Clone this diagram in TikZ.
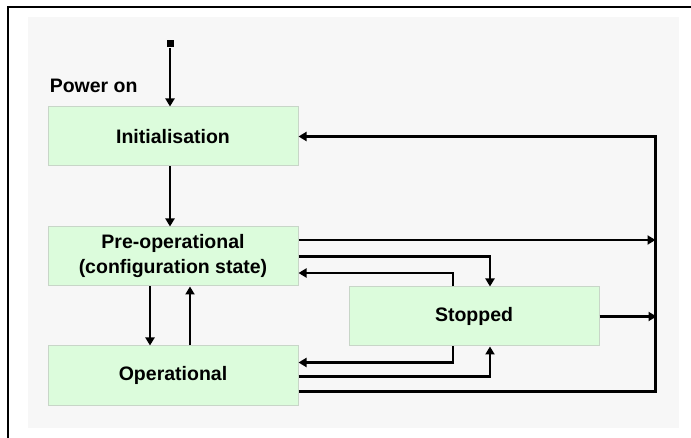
\documentclass[tikz,border=0pt]{standalone}
\usepackage{fontspec}
\setmainfont{Liberation Sans}
\usetikzlibrary{positioning, arrows.meta}

\definecolor{panelgray}{HTML}{F7F7F7}
\definecolor{stategreen}{HTML}{DCFCDC}
\definecolor{stateline}{HTML}{C8D6C8}

\begin{document}
\begin{tikzpicture}[
    x=1pt, y=-1pt,
    line width=2.6pt,
    >={Triangle[length=8pt, width=9pt]},
    state/.style={rectangle, draw=stateline, fill=stategreen, line width=1pt, inner sep=0pt,
        minimum width=250pt, minimum height=59pt, align=center,
        font=\bfseries\fontsize{19.5pt}{25pt}\selectfont},
    source/.style={rectangle, fill=black, inner sep=0pt, minimum size=7pt},
    tag/.style={inner sep=0pt, font=\bfseries\fontsize{19.5pt}{25pt}\selectfont}
]

% Frame and panel
\useasboundingbox (0,0) rectangle (691,438);
\fill[panelgray] (28,17) rectangle (679,428);
\draw[line width=2pt] (8,438) -- (8,7) -- (691,7);

% States
\node[state] (init) at (173,136.5) {Initialisation};
\node[state, below=60pt of init] (preop) {Pre-operational\\(configuration state)};
\node[state, below=59pt of preop] (op) {Operational};
\node[state, below right=0pt and 50pt of preop] (stopped) {Stopped};

% Power on
\node[source, above=58pt of init.north, xshift=-3pt] (power) {};
\node[tag, above right=13pt and 1pt of init.north west] (power_label) {Power on};

% Right-hand return line
\coordinate[right=357pt of init.east] (bus_init);
\coordinate[right=357pt of preop.east, yshift=16.5pt] (bus_preop);
\coordinate[right=57pt of stopped.east] (bus_stopped);
\coordinate[right=357pt of op.east, yshift=-16pt] (bus_op);

% Main chain edges
\draw[->] (power) -- ([xshift=-3pt]init.north);
\draw[->] ([xshift=-3pt]init.south) -- ([xshift=-3pt]preop.north);
\draw[->] ([xshift=-23pt]preop.south) -- ([xshift=-23pt]op.north);
\draw[->] ([xshift=17pt]op.north) -- ([xshift=17pt]preop.south);

% Stopped edges
\draw[->] (preop.east) -| ([xshift=16pt]stopped.north);
\draw[->] ([xshift=-21pt]stopped.north) |- ([yshift=-16.5pt]preop.east);
\draw[->] ([xshift=-21pt]stopped.south) |- ([yshift=13pt]op.east);
\draw[->] ([yshift=-1pt]op.east) -| ([xshift=16pt]stopped.south);

% Return line edges
\draw[->] ([yshift=16.5pt]preop.east) -- (bus_preop);
\draw[->] (stopped.east) -- (bus_stopped);
\draw[->] ([yshift=-16pt]op.east) -- (bus_op) -- (bus_init) -- (init.east);

\end{tikzpicture}
\end{document}
